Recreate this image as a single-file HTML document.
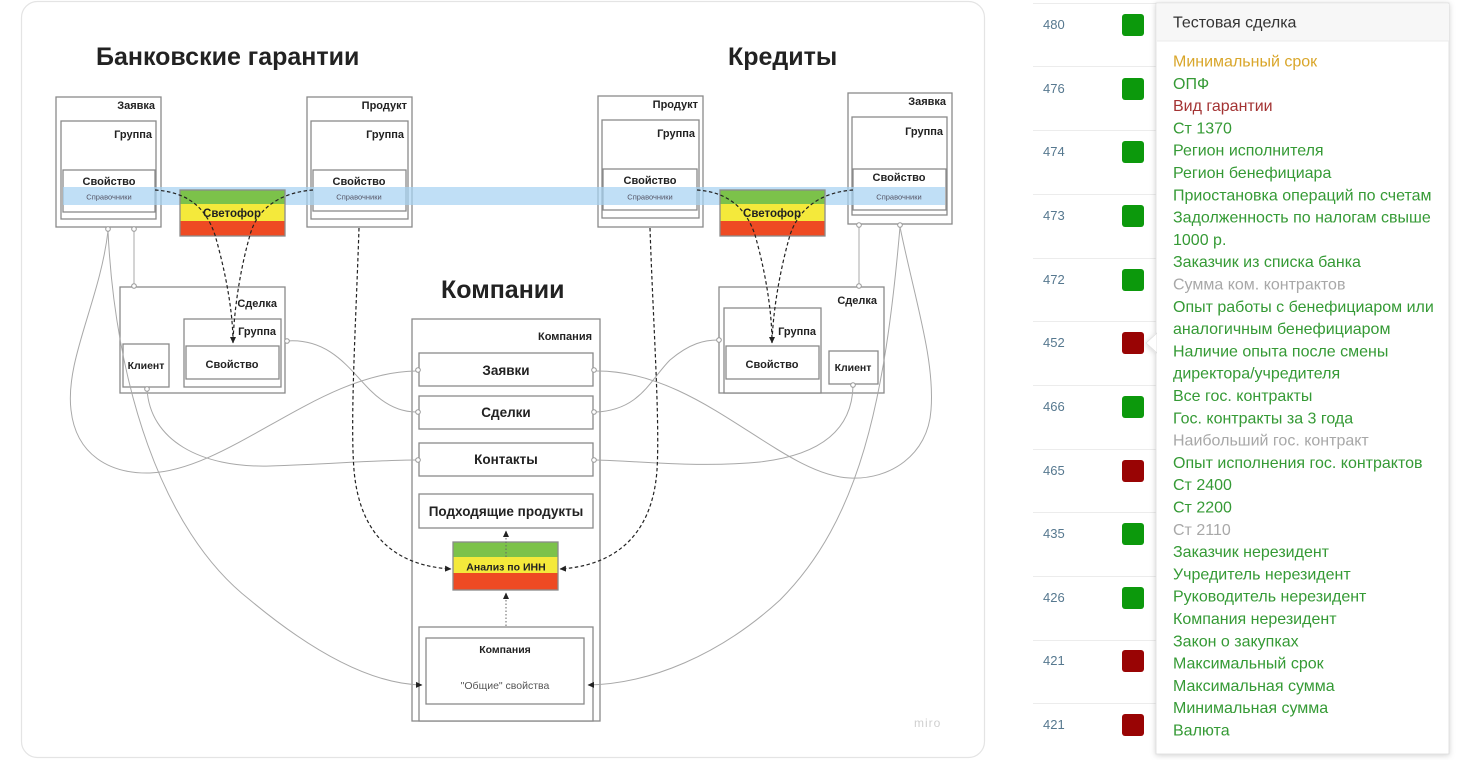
<!DOCTYPE html>
<html><head><meta charset="utf-8"><style>
html,body{margin:0;padding:0;background:#fff;}
svg{display:block;}
.b{fill:#fff;stroke:#8a8a8a;stroke-width:1.3;}
.nf{fill:none;stroke:#8a8a8a;stroke-width:1.3;}
.t{font-family:"Liberation Sans","DejaVu Sans",sans-serif;font-weight:bold;fill:#222;}
.c{fill:none;stroke:#a8a8a8;stroke-width:1;}
.d{fill:none;stroke:#222;stroke-width:1.2;stroke-dasharray:3.5 2.5;}
.dot{fill:#fff;stroke:#999;stroke-width:1;}
.p{font-family:"Liberation Sans",Arial,sans-serif;font-size:16px;}
.g{fill:#359a35;}
.n{font-family:"Liberation Sans",Arial,sans-serif;font-size:13px;fill:#56788f;}
</style></head><body>
<svg width="1469" height="760" viewBox="0 0 1469 760" xmlns="http://www.w3.org/2000/svg">
<defs>
<marker id="ar" markerWidth="7" markerHeight="7" refX="6" refY="3.5" orient="auto" markerUnits="userSpaceOnUse"><path d="M0,0.5 L6.5,3.5 L0,6.5 z" fill="#222"/></marker>
<filter id="sh" x="-10%" y="-5%" width="120%" height="110%"><feDropShadow dx="0" dy="1" stdDeviation="3" flood-color="#000" flood-opacity="0.18"/></filter>
</defs>
<rect x="0" y="0" width="1469" height="760" fill="#fff"/>
<!-- canvas -->
<rect x="21.5" y="1.5" width="963" height="756" rx="16" fill="#fff" stroke="#e4e4e4" stroke-width="1.2"/>

<!-- titles -->
<text class="t" x="96" y="65" font-size="25">Банковские гарантии</text>
<text class="t" x="728" y="65" font-size="25">Кредиты</text>
<text class="t" x="441" y="298" font-size="25">Компании</text>

<!-- LEFT: Заявка -->
<rect class="b" x="56" y="97" width="105" height="130"/>
<text class="t" x="155" y="109" font-size="11" text-anchor="end">Заявка</text>
<rect class="b" x="61" y="121" width="95" height="98"/>
<text class="t" x="152" y="138" font-size="11" text-anchor="end">Группа</text>
<rect class="b" x="63" y="170" width="92" height="42"/>
<text class="t" x="109" y="185" font-size="11" text-anchor="middle">Свойство</text>

<!-- LEFT: Продукт -->
<rect class="b" x="307" y="97" width="105" height="130"/>
<text class="t" x="407" y="109" font-size="11" text-anchor="end">Продукт</text>
<rect class="b" x="311" y="121" width="97" height="98"/>
<text class="t" x="404" y="138" font-size="11" text-anchor="end">Группа</text>
<rect class="b" x="313" y="170" width="93" height="41"/>
<text class="t" x="359" y="185" font-size="11" text-anchor="middle">Свойство</text>

<!-- RIGHT: Продукт -->
<rect class="b" x="598" y="96" width="105" height="131"/>
<text class="t" x="698" y="108" font-size="11" text-anchor="end">Продукт</text>
<rect class="b" x="602" y="120" width="97" height="98"/>
<text class="t" x="695" y="137" font-size="11" text-anchor="end">Группа</text>
<rect class="b" x="603" y="169" width="94" height="41"/>
<text class="t" x="650" y="184" font-size="11" text-anchor="middle">Свойство</text>

<!-- RIGHT: Заявка -->
<rect class="b" x="848" y="93" width="104" height="131"/>
<text class="t" x="946" y="105" font-size="11" text-anchor="end">Заявка</text>
<rect class="b" x="852" y="117" width="95" height="98"/>
<text class="t" x="943" y="135" font-size="11" text-anchor="end">Группа</text>
<rect class="b" x="853" y="169" width="93" height="41"/>
<text class="t" x="899" y="181" font-size="11" text-anchor="middle">Свойство</text>

<!-- blue band -->
<rect x="63" y="187" width="882" height="18" fill="#a7d3f2" fill-opacity="0.72"/>
<g font-family="Liberation Sans, DejaVu Sans, sans-serif" font-size="7.5" fill="#556" text-anchor="middle">
<text x="109" y="199.5">Справочники</text>
<text x="359" y="199.5">Справочники</text>
<text x="650" y="199.5">Справочники</text>
<text x="899" y="199.5">Справочники</text>
</g>

<!-- Светофор L -->
<rect x="180" y="190" width="105" height="14" fill="#7cc24a"/>
<rect x="180" y="204" width="105" height="17" fill="#f4e93b"/>
<rect x="180" y="221" width="105" height="15" fill="#ee4a23"/>
<rect class="nf" x="180" y="190" width="105" height="46" stroke="#777" stroke-width="0.8"/>
<text class="t" x="232" y="217" font-size="11.5" text-anchor="middle">Светофор</text>
<!-- Светофор R -->
<rect x="720" y="190" width="105" height="14" fill="#7cc24a"/>
<rect x="720" y="204" width="105" height="17" fill="#f4e93b"/>
<rect x="720" y="221" width="105" height="15" fill="#ee4a23"/>
<rect class="nf" x="720" y="190" width="105" height="46" stroke="#777" stroke-width="0.8"/>
<text class="t" x="772" y="217" font-size="11.5" text-anchor="middle">Светофор</text>

<!-- LEFT Сделка -->
<rect class="b" x="120" y="287" width="165" height="106"/>
<text class="t" x="277" y="307" font-size="11" text-anchor="end">Сделка</text>
<rect class="b" x="184" y="319" width="97" height="68"/>
<text class="t" x="276" y="335" font-size="11" text-anchor="end">Группа</text>
<rect class="b" x="186" y="346" width="93" height="33"/>
<text class="t" x="232" y="368" font-size="11" text-anchor="middle">Свойство</text>
<rect class="b" x="123" y="344" width="46" height="43"/>
<text class="t" x="146" y="369" font-size="10.5" text-anchor="middle">Клиент</text>

<!-- RIGHT Сделка -->
<rect class="b" x="719" y="287" width="165" height="106"/>
<text class="t" x="877" y="304" font-size="11" text-anchor="end">Сделка</text>
<rect class="b" x="724" y="308" width="97" height="85"/>
<text class="t" x="816" y="335" font-size="11" text-anchor="end">Группа</text>
<rect class="b" x="726" y="346" width="93" height="33"/>
<text class="t" x="772" y="368" font-size="11" text-anchor="middle">Свойство</text>
<rect class="b" x="829" y="351" width="49" height="33"/>
<text class="t" x="853" y="371" font-size="10.5" text-anchor="middle">Клиент</text>

<!-- Company -->
<rect class="b" x="412" y="319" width="188" height="402"/>
<text class="t" x="592" y="340" font-size="11" text-anchor="end">Компания</text>
<rect class="b" x="419" y="353" width="174" height="33"/>
<text class="t" x="506" y="375" font-size="13.5" text-anchor="middle">Заявки</text>
<rect class="b" x="419" y="396" width="174" height="33"/>
<text class="t" x="506" y="417" font-size="13.5" text-anchor="middle">Сделки</text>
<rect class="b" x="419" y="443" width="174" height="33"/>
<text class="t" x="506" y="464" font-size="13.5" text-anchor="middle">Контакты</text>
<rect class="b" x="419" y="494" width="174" height="34"/>
<text class="t" x="506" y="516" font-size="13.5" text-anchor="middle">Подходящие продукты</text>

<rect x="453" y="542" width="105" height="15" fill="#7cc24a"/>
<rect x="453" y="557" width="105" height="16" fill="#f4e93b"/>
<rect x="453" y="573" width="105" height="17" fill="#ee4a23"/>
<rect class="nf" x="453" y="542" width="105" height="48" stroke="#777" stroke-width="0.8"/>
<text class="t" x="506" y="570.5" font-size="10.5" text-anchor="middle">Анализ по ИНН</text>

<rect class="b" x="419" y="627" width="174" height="94"/>
<rect class="b" x="426" y="638" width="158" height="66"/>
<text class="t" x="505" y="653" font-size="10.5" text-anchor="middle">Компания</text>
<text x="505" y="689" font-family="Liberation Sans, DejaVu Sans, sans-serif" font-size="10.5" fill="#555" text-anchor="middle">"Общие" свойства</text>

<!-- dotted verticals -->
<line x1="506" y1="626" x2="506" y2="593" stroke="#666" stroke-width="1" stroke-dasharray="1.5 2" marker-end="url(#ar)"/>
<line x1="506" y1="557" x2="506" y2="531" stroke="#666" stroke-width="1" stroke-dasharray="1.5 2" marker-end="url(#ar)"/>

<!-- gray connectors LEFT -->
<line class="c" x1="134" y1="231" x2="134" y2="284"/>
<path class="c" d="M108,231 C100,300 65,360 71,410 C76,455 110,474 150,473 C230,470 320,372 416,371"/>
<path class="c" d="M108,231 C115,380 160,530 250,600 C310,650 370,684 422,685" marker-end="url(#ar)"/>
<path class="c" d="M147,389 C150,440 200,468 270,466 C330,464 380,460 416,460"/>
<path class="c" d="M287,341 C330,338 350,370 370,390 C385,405 400,412 416,412"/>
<!-- gray connectors RIGHT -->
<line class="c" x1="859" y1="227" x2="859" y2="284"/>
<path class="c" d="M900,227 C915,300 935,360 931,410 C928,455 890,480 850,478 C780,475 700,370 596,371"/>
<path class="c" d="M900,227 C885,400 860,520 780,600 C720,655 650,684 588,685" marker-end="url(#ar)"/>
<path class="c" d="M853,386 C852,430 820,455 760,462 C700,468 640,461 596,460"/>
<path class="c" d="M596,412 C640,410 650,380 670,360 C690,343 705,340 718,340"/>

<!-- endpoint circles -->
<g class="dot">
<circle cx="108" cy="229" r="2.3"/><circle cx="134" cy="229" r="2.3"/><circle cx="134" cy="286" r="2.3"/>
<circle cx="147" cy="389" r="2.3"/><circle cx="287" cy="341" r="2.3"/>
<circle cx="418" cy="370" r="2.3"/><circle cx="418" cy="412" r="2.3"/><circle cx="418" cy="460" r="2.3"/>
<circle cx="594" cy="370" r="2.3"/><circle cx="594" cy="412" r="2.3"/><circle cx="594" cy="460" r="2.3"/>
<circle cx="859" cy="225" r="2.3"/><circle cx="900" cy="225" r="2.3"/><circle cx="859" cy="286" r="2.3"/>
<circle cx="853" cy="385" r="2.3"/><circle cx="719" cy="340" r="2.3"/>
</g>

<!-- dashed -->
<path class="d" d="M155,190 C185,192 205,205 215,235 C225,270 233,310 233,343" marker-end="url(#ar)"/>
<path class="d" d="M313,190 C285,192 258,205 250,235 C240,270 234,310 233,343"/>
<path class="d" d="M697,190 C725,192 745,205 755,235 C765,270 772,310 772,343" marker-end="url(#ar)"/>
<path class="d" d="M853,190 C825,192 800,205 790,235 C780,270 773,310 772,343"/>
<path class="d" d="M359,228 C356,320 350,420 354,470 C360,540 400,566 451,569" marker-end="url(#ar)"/>
<path class="d" d="M650,228 C653,320 660,420 657,470 C652,540 610,566 560,569" marker-end="url(#ar)"/>

<text x="914" y="727" font-family="Liberation Sans, DejaVu Sans, sans-serif" font-size="12" fill="#cfcfcf" letter-spacing="1">miro</text>

<!-- RIGHT PANEL -->
<g stroke="#ececec" stroke-width="1">
<line x1="1033" y1="3.5" x2="1156" y2="3.5"/><line x1="1033" y1="66.5" x2="1156" y2="66.5"/>
<line x1="1033" y1="130.5" x2="1156" y2="130.5"/><line x1="1033" y1="194.5" x2="1156" y2="194.5"/>
<line x1="1033" y1="258.5" x2="1156" y2="258.5"/><line x1="1033" y1="321.5" x2="1156" y2="321.5"/>
<line x1="1033" y1="385.5" x2="1156" y2="385.5"/><line x1="1033" y1="449.5" x2="1156" y2="449.5"/>
<line x1="1033" y1="512.5" x2="1156" y2="512.5"/><line x1="1033" y1="576.5" x2="1156" y2="576.5"/>
<line x1="1033" y1="640.5" x2="1156" y2="640.5"/><line x1="1033" y1="703.5" x2="1156" y2="703.5"/>
</g>
<g class="n">
<text x="1043" y="29">480</text><text x="1043" y="93">476</text><text x="1043" y="156">474</text>
<text x="1043" y="220">473</text><text x="1043" y="284">472</text><text x="1043" y="347">452</text>
<text x="1043" y="411">466</text><text x="1043" y="475">465</text><text x="1043" y="538">435</text>
<text x="1043" y="602">426</text><text x="1043" y="665">421</text><text x="1043" y="729">421</text>
</g>
<g>
<rect x="1122" y="14" width="22" height="22" rx="3" fill="#0c990c"/>
<rect x="1122" y="78" width="22" height="22" rx="3" fill="#0c990c"/>
<rect x="1122" y="141" width="22" height="22" rx="3" fill="#0c990c"/>
<rect x="1122" y="205" width="22" height="22" rx="3" fill="#0c990c"/>
<rect x="1122" y="269" width="22" height="22" rx="3" fill="#0c990c"/>
<rect x="1122" y="332" width="22" height="22" rx="3" fill="#990404"/>
<rect x="1122" y="396" width="22" height="22" rx="3" fill="#0c990c"/>
<rect x="1122" y="460" width="22" height="22" rx="3" fill="#990404"/>
<rect x="1122" y="523" width="22" height="22" rx="3" fill="#0c990c"/>
<rect x="1122" y="587" width="22" height="22" rx="3" fill="#0c990c"/>
<rect x="1122" y="650" width="22" height="22" rx="3" fill="#990404"/>
<rect x="1122" y="714" width="22" height="22" rx="3" fill="#990404"/>
</g>

<!-- popup -->
<g filter="url(#sh)">
<rect x="1156" y="3" width="293" height="751" fill="#fff" stroke="#dcdcdc" stroke-width="0.8"/>
<path d="M1157,333 L1146,343 L1157,353 z" fill="#fff" stroke="#dcdcdc" stroke-width="0.8"/>
</g>
<rect x="1157" y="332" width="3" height="22" fill="#fff"/>
<rect x="1157" y="4" width="292" height="37" fill="#f7f7f7"/>
<line x1="1157" y1="41" x2="1449" y2="41" stroke="#ebebeb"/>
<text class="p" x="1173" y="27.5" fill="#333">Тестовая сделка</text>
<g class="p">
<text x="1173" y="66.5" fill="#d9a62a">Минимальный срок</text>
<text x="1173" y="88.8" class="g">ОПФ</text>
<text x="1173" y="111.1" fill="#a33333">Вид гарантии</text>
<text x="1173" y="133.4" class="g">Ст 1370</text>
<text x="1173" y="155.7" class="g">Регион исполнителя</text>
<text x="1173" y="178" class="g">Регион бенефициара</text>
<text x="1173" y="200.3" class="g">Приостановка операций по счетам</text>
<text x="1173" y="222.6" class="g">Задолженность по налогам свыше</text>
<text x="1173" y="244.9" class="g">1000 р.</text>
<text x="1173" y="267.2" class="g">Заказчик из списка банка</text>
<text x="1173" y="289.5" fill="#a8a8a8">Сумма ком. контрактов</text>
<text x="1173" y="311.8" class="g">Опыт работы с бенефициаром или</text>
<text x="1173" y="334.1" class="g">аналогичным бенефициаром</text>
<text x="1173" y="356.4" class="g">Наличие опыта после смены</text>
<text x="1173" y="378.7" class="g">директора/учредителя</text>
<text x="1173" y="401" class="g">Все гос. контракты</text>
<text x="1173" y="423.3" class="g">Гос. контракты за 3 года</text>
<text x="1173" y="445.6" fill="#a8a8a8">Наибольший гос. контракт</text>
<text x="1173" y="467.9" class="g">Опыт исполнения гос. контрактов</text>
<text x="1173" y="490.2" class="g">Ст 2400</text>
<text x="1173" y="512.5" class="g">Ст 2200</text>
<text x="1173" y="534.8" fill="#a8a8a8">Ст 2110</text>
<text x="1173" y="557.1" class="g">Заказчик нерезидент</text>
<text x="1173" y="579.4" class="g">Учредитель нерезидент</text>
<text x="1173" y="601.7" class="g">Руководитель нерезидент</text>
<text x="1173" y="624" class="g">Компания нерезидент</text>
<text x="1173" y="646.3" class="g">Закон о закупках</text>
<text x="1173" y="668.6" class="g">Максимальный срок</text>
<text x="1173" y="690.9" class="g">Максимальная сумма</text>
<text x="1173" y="713.2" class="g">Минимальная сумма</text>
<text x="1173" y="735.5" class="g">Валюта</text>
</g>
</svg>
</body></html>
